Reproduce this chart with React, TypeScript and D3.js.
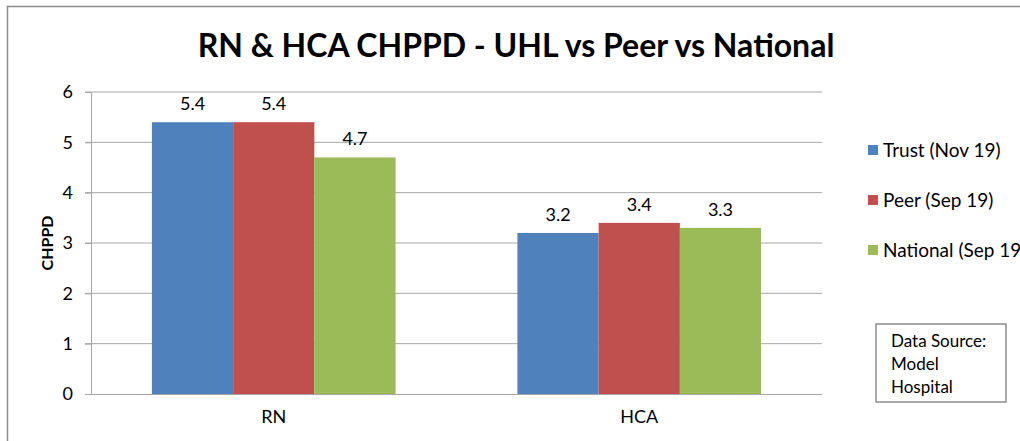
import React from 'react';
import * as d3 from 'd3';

const categories = ['RN', 'HCA'];
const seriesNames = ['Trust (Nov 19)', 'Peer (Sep 19)', 'National (Sep 19)'];
const trustValues = [5.4, 3.2];
const peerValues = [5.4, 3.4];
const nationalValues = [4.7, 3.3];
const yTicks = [0, 1, 2, 3, 4, 5, 6];
const colors = ['#4F81BD', '#C0504D', '#9BBB59'];

const font = 'Lato, "Open Sans", sans-serif';

const App: React.FC = () => {
  const svgRef = React.useRef<SVGSVGElement>(null);
  const width = 1020;
  const height = 441;

  React.useEffect(() => {
    if (!svgRef.current) return;
    const svg = d3.select(svgRef.current);
    svg.selectAll('*').remove();

    const margin = { top: 92, left: 91, right: 198, bottom: 47 };
    const chartWidth = width - margin.left - margin.right;
    const chartHeight = height - margin.top - margin.bottom;
    const series = [trustValues, peerValues, nationalValues];

    // outer chart border
    svg.append('rect')
      .attr('x', 7.5).attr('y', 6.5)
      .attr('width', width + 20).attr('height', height + 20)
      .attr('fill', '#fff').attr('stroke', '#8c8c8c').attr('stroke-width', 1.5);

    svg.append('text')
      .attr('x', 516).attr('y', 57)
      .attr('text-anchor', 'middle')
      .attr('font-family', font).attr('font-weight', 'bold').attr('font-size', 32)
      .attr('fill', '#000')
      .text('RN & HCA CHPPD - UHL vs Peer vs National');

    const g = svg.append('g').attr('transform', `translate(${margin.left},${margin.top})`);

    const x0 = d3.scaleBand().domain(categories).range([0, chartWidth]);
    const barW = x0.bandwidth() / 4.5;
    const x1 = d3.scaleBand<number>().domain([0, 1, 2])
      .range([0, barW * 3]);
    const y = d3.scaleLinear().domain([0, 6]).range([chartHeight, 0]);

    // gridlines
    g.selectAll('.grid').data(yTicks.filter(t => t > 0)).enter().append('line')
      .attr('x1', -6).attr('x2', chartWidth)
      .attr('y1', d => y(d)).attr('y2', d => y(d))
      .attr('stroke', '#a6a6a6').attr('stroke-width', 1);

    // y axis
    const yAxis = g.append('g').call(
      d3.axisLeft(y).tickValues(yTicks).tickFormat(d3.format('d')).tickSize(6).tickPadding(12)
    );
    yAxis.select('.domain').attr('stroke', '#a6a6a6');
    yAxis.selectAll('line').attr('stroke', '#a6a6a6');
    yAxis.selectAll('text').attr('font-family', font).attr('font-size', 18).attr('fill', '#000');

    // x axis
    const xAxis = g.append('g').attr('transform', `translate(0,${chartHeight})`)
      .call(d3.axisBottom(x0).tickSize(0).tickPadding(16));
    xAxis.select('.domain').attr('stroke', '#a6a6a6').attr('d', `M-6,0.5H${chartWidth}`);
    xAxis.selectAll('text').attr('font-family', font).attr('font-size', 18).attr('fill', '#000');

    series.forEach((vals, si) => {
      const grp = g.append('g');
      grp.selectAll('rect').data(vals).enter().append('rect')
        .attr('x', (d, i) => (x0(categories[i]) || 0) + barW * 0.75 + (x1(si) || 0))
        .attr('y', d => y(d))
        .attr('width', x1.bandwidth())
        .attr('height', d => chartHeight - y(d))
        .attr('fill', colors[si]);
      grp.selectAll('text').data(vals).enter().append('text')
        .attr('x', (d, i) => (x0(categories[i]) || 0) + barW * 0.75 + (x1(si) || 0) + x1.bandwidth() / 2)
        .attr('y', d => y(d) - 12)
        .attr('text-anchor', 'middle')
        .attr('font-family', font).attr('font-size', 18).attr('fill', '#000')
        .text(d => d.toFixed(1));
    });

    // y axis title
    svg.append('text')
      .attr('transform', `translate(53,${margin.top + chartHeight / 2}) rotate(-90)`)
      .attr('text-anchor', 'middle')
      .attr('font-family', font).attr('font-weight', 'bold').attr('font-size', 16)
      .attr('fill', '#000')
      .text('CHPPD');

    // legend
    const legend = svg.append('g');
    seriesNames.forEach((name, i) => {
      const ly = 150 + i * 50;
      legend.append('rect')
        .attr('x', 868).attr('y', ly - 5).attr('width', 10).attr('height', 10)
        .attr('fill', colors[i]);
      legend.append('text')
        .attr('x', 883).attr('y', ly + 7)
        .attr('font-family', font).attr('font-size', 19).attr('fill', '#000')
        .text(name);
    });

    // data source box
    svg.append('rect')
      .attr('x', 876).attr('y', 324).attr('width', 130).attr('height', 78)
      .attr('fill', '#fff').attr('stroke', '#8c8c8c').attr('stroke-width', 1.5);
    ['Data Source:', 'Model', 'Hospital'].forEach((t, i) => {
      svg.append('text')
        .attr('x', 891).attr('y', 347 + i * 23)
        .attr('font-family', font).attr('font-size', 17).attr('fill', '#000')
        .text(t);
    });
  }, []);

  return (
    <svg
      ref={svgRef}
      width={width}
      height={height}
      style={{ position: 'absolute', left: 0, top: 0 }}
    />
  );
};

export default App;
